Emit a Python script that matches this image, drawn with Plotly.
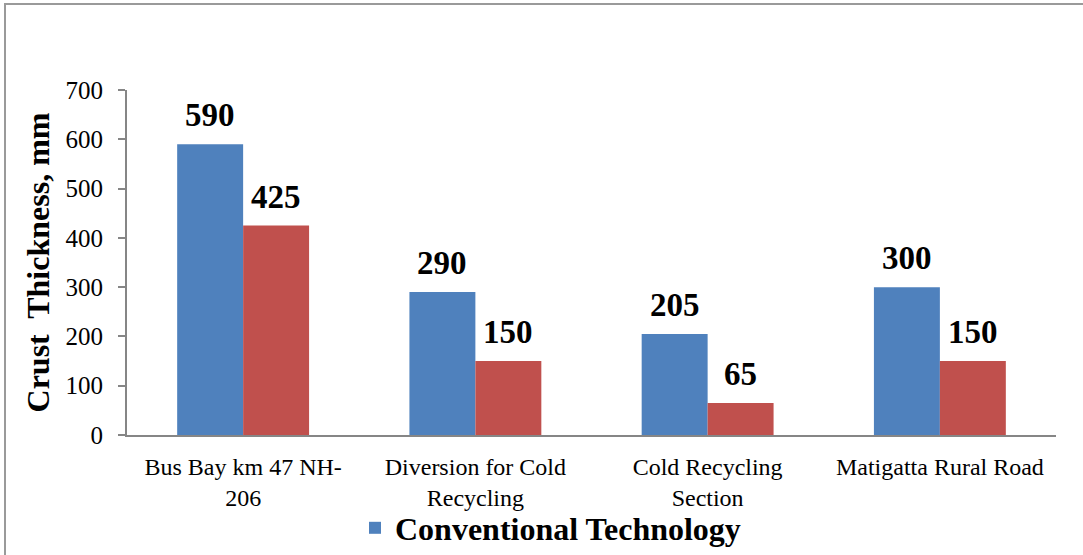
import plotly.graph_objects as go

# Road sections and crust thickness (mm) for the two pavement designs
sections = [
    "Bus Bay km 47 NH-<br>206",
    "Diversion for Cold<br>Recycling",
    "Cold Recycling<br>Section",
    "Matigatta Rural Road",
]
conventional = [590, 290, 205, 300]
cold_recycled = [425, 150, 65, 150]

BLUE = "#4F81BD"
RED = "#C0504D"
FONT = "Liberation Serif, Times New Roman, serif"

W, H = 1083, 555
ML, MR, MT, MB = 127, 27, 90, 120
BARGAP = 0.432

fig = go.Figure()
fig.add_trace(go.Bar(
    x=sections, y=conventional, name="Conventional Technology",
    marker=dict(color=BLUE, line=dict(width=0)),
))
fig.add_trace(go.Bar(
    x=sections, y=cold_recycled, name="Cold Recycling Technology",
    marker=dict(color=RED, line=dict(width=0)), showlegend=False,
))

# value labels above each bar, centred over the bar within its group
half = (1 - BARGAP) / 4
for series, sign in ((conventional, -1), (cold_recycled, 1)):
    for i, v in enumerate(series):
        fig.add_annotation(
            x=i + sign * half, y=v, xref="x", yref="y",
            text=f"<b>{v}</b>", showarrow=False,
            yanchor="bottom", yshift=9,
            font=dict(family=FONT, size=33, color="black"),
        )

# outer chart frame
pw = W - ML - MR
ph = H - MT - MB
fig.add_shape(
    type="rect", xref="paper", yref="paper",
    x0=(5 - ML) / pw, x1=(W + 10 - ML) / pw,
    y0=-(MB + 10) / ph, y1=(H - MB - 4) / ph,
    line=dict(color="#9a9a9a", width=2), fillcolor="rgba(0,0,0,0)",
)

fig.update_layout(
    width=W, height=H,
    margin=dict(l=ML, r=MR, t=MT, b=MB, autoexpand=False),
    paper_bgcolor="white", plot_bgcolor="white",
    barmode="group", bargap=BARGAP, bargroupgap=0,
    font=dict(family=FONT, color="black"),
    showlegend=True,
    legend=dict(
        orientation="h", x=(355 - ML) / pw, xanchor="left",
        y=-(528 - MT - ph) / ph, yanchor="middle",
        font=dict(family=FONT, size=32, weight="bold", color="black"),
        bgcolor="rgba(0,0,0,0)",
    ),
    xaxis=dict(
        showline=True, linecolor="#868686", linewidth=2,
        showgrid=False, ticks="", ticklabelstandoff=9,
        tickfont=dict(family=FONT, size=24, color="black"),
    ),
    yaxis=dict(
        range=[0, 700], dtick=100, showline=True, linecolor="#868686",
        linewidth=2, showgrid=False, zeroline=False,
        ticks="outside", ticklen=7, tickwidth=2, tickcolor="#868686",
        ticklabelstandoff=10,
        tickfont=dict(family=FONT, size=25, color="black"),
        title=dict(text="<b>Crust  Thickness, mm</b>", standoff=6,
                   font=dict(family=FONT, size=32, color="black")),
    ),
)

fig.write_html("out.html")
